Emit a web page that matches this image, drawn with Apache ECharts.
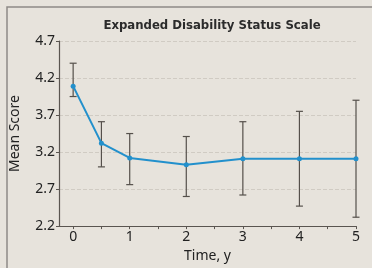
<!DOCTYPE html>
<html>
<head>
<meta charset="utf-8">
<script src="https://cdn.jsdelivr.net/npm/echarts@6/dist/echarts.min.js"></script>
<style>
  html, body { margin: 0; padding: 0; background: #e7e3dc; }
  #chart { width: 372px; height: 268px; }
</style>
</head>
<body>
<div id="chart"></div>
<script>
const years = [0, 0.5, 1, 2, 3, 4, 5];
const means = [4.09, 3.32, 3.12, 3.03, 3.11, 3.11, 3.11];
const lower = [3.95, 3.00, 2.76, 2.60, 2.62, 2.47, 2.32];
const upper = [4.40, 3.61, 3.45, 3.41, 3.61, 3.75, 3.90];
const xLabels = [0, 1, 2, 3, 4, 5];
const xTicks = [0, 0.5, 1, 1.5, 2, 2.5, 3, 3.5, 4, 4.5, 5];

const chart = echarts.init(document.getElementById('chart'));
const font = '"Noto Sans", "DejaVu Sans", sans-serif';
const axisColor = '#5a5550';

const option = {
  backgroundColor: '#e7e3dc',
  animation: false,
  title: {
    text: 'Expanded Disability Status Scale',
    left: 207,
    textAlign: 'center',
    top: 14,
    textStyle: {
      fontFamily: '"Liberation Sans Narrow", "DejaVu Sans Condensed", sans-serif',
      fontWeight: 'bold',
      fontSize: 13,
      color: '#2b2b2b'
    }
  },
  graphic: [{
    type: 'polyline',
    shape: { points: [[7, 268], [7, 7], [372, 7]] },
    style: { stroke: '#8e8a86', lineWidth: 1.5, fill: null }
  }],
  grid: { left: 57, right: 16, top: 41, bottom: 37 },
  xAxis: {
    type: 'value',
    min: -0.25,
    max: 5,
    name: 'Time, y',
    nameLocation: 'middle',
    nameGap: 22,
    nameTextStyle: { fontFamily: font, fontSize: 14, color: '#222' },
    axisLine: { show: true, onZero: false, lineStyle: { color: axisColor, width: 1.2 } },
    axisTick: { show: true, length: 3, customValues: xTicks, lineStyle: { color: axisColor } },
    axisLabel: {
      customValues: xLabels,
      fontFamily: font, fontSize: 14, color: '#222', margin: 4
    },
    splitLine: { show: false }
  },
  yAxis: {
    type: 'value',
    min: 2.2,
    max: 4.7,
    interval: 0.5,
    name: 'Mean Score',
    nameLocation: 'middle',
    nameGap: 37,
    nameTextStyle: { fontFamily: font, fontSize: 14, color: '#222' },
    axisLine: { show: true, onZero: false, lineStyle: { color: axisColor, width: 1.2 } },
    axisTick: { show: true, length: 3, lineStyle: { color: axisColor } },
    axisLabel: {
      fontFamily: font, fontSize: 14, color: '#222', margin: 4,
      formatter: v => v.toFixed(1)
    },
    splitLine: { show: true, lineStyle: { color: 'rgba(140,130,120,0.25)', type: 'dashed', width: 1 } }
  },
  series: [
    {
      type: 'custom',
      name: 'range',
      data: years.map((x, i) => [x, lower[i], upper[i]]),
      renderItem: (params, api) => {
        const x = api.value(0);
        const lo = api.coord([x, api.value(1)]);
        const hi = api.coord([x, api.value(2)]);
        const w = 3.5;
        const style = { stroke: '#55504b', lineWidth: 1.2 };
        return {
          type: 'group',
          children: [
            { type: 'line', shape: { x1: lo[0], y1: lo[1], x2: hi[0], y2: hi[1] }, style },
            { type: 'line', shape: { x1: lo[0] - w, y1: lo[1], x2: lo[0] + w, y2: lo[1] }, style },
            { type: 'line', shape: { x1: hi[0] - w, y1: hi[1], x2: hi[0] + w, y2: hi[1] }, style }
          ]
        };
      },
      z: 1
    },
    {
      type: 'line',
      name: 'EDSS',
      data: years.map((x, i) => [x, means[i]]),
      symbol: 'circle',
      symbolSize: 5,
      lineStyle: { color: '#2290cc', width: 2 },
      itemStyle: { color: '#2290cc' },
      z: 3
    }
  ]
};

chart.setOption(option);
</script>
</body>
</html>
